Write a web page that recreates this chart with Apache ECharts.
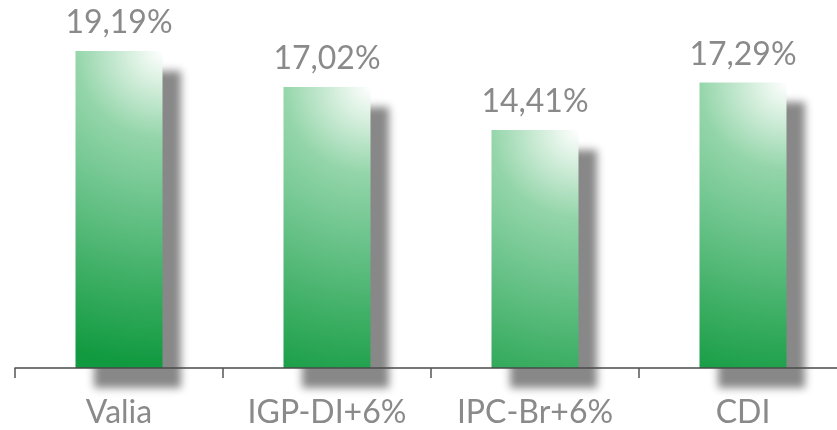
<!DOCTYPE html>
<html>
<head>
<meta charset="utf-8">
<script src="https://cdn.jsdelivr.net/npm/echarts@6/dist/echarts.min.js"></script>
<style>
  html, body { margin: 0; padding: 0; background: #fff; }
  #chart { width: 837px; height: 430px; }
</style>
</head>
<body>
<div id="chart"></div>
<script>
// dados
const categories = ['Valia', 'IGP-DI+6%', 'IPC-Br+6%', 'CDI'];
const values = [19.19, 17.02, 14.41, 17.29];

const fmt = v => v.toFixed(2).replace('.', ',') + '%';

const myChart = echarts.init(document.getElementById('chart'));

// gradiente: brilho branco no canto superior direito, verde embaixo
const barColor = new echarts.graphic.RadialGradient(1, 0, 3.6, [
  { offset: 0, color: '#ffffff' },
  { offset: 0.1, color: '#d9f0e0' },
  { offset: 0.28, color: '#93d5a9' },
  { offset: 0.5, color: '#6ac38a' },
  { offset: 0.75, color: '#3cae63' },
  { offset: 1, color: '#119a40' }
]);

myChart.setOption({
  animation: false,
  backgroundColor: '#ffffff',
  grid: { left: 15, width: 832, top: 0, bottom: 62, outerBoundsMode: 'none' },
  xAxis: {
    type: 'category',
    data: categories,
    z: 10,
    axisLine: { lineStyle: { color: '#4a4a4a', width: 1.5 } },
    axisTick: { show: true, interval: 0, length: 10, lineStyle: { color: '#555', width: 1.5 } },
    axisLabel: {
      margin: 29,
      color: '#8a8a8a',
      fontFamily: 'Lato',
      fontSize: 32
    }
  },
  yAxis: {
    type: 'value',
    min: 0,
    max: 22.28,
    show: false,
    splitLine: { show: false }
  },
  series: [{
    type: 'bar',
    data: values,
    barWidth: 87,
    clip: false,
    itemStyle: {
      color: barColor,
      shadowColor: 'rgba(115,115,115,0.85)',
      shadowBlur: 8,
      shadowOffsetX: 18,
      shadowOffsetY: 20
    },
    label: {
      show: true,
      position: 'top',
      distance: 12,
      color: '#8a8a8a',
      fontFamily: 'Lato',
      fontSize: 32,
      formatter: p => fmt(p.value)
    }
  }]
});
</script>
</body>
</html>
